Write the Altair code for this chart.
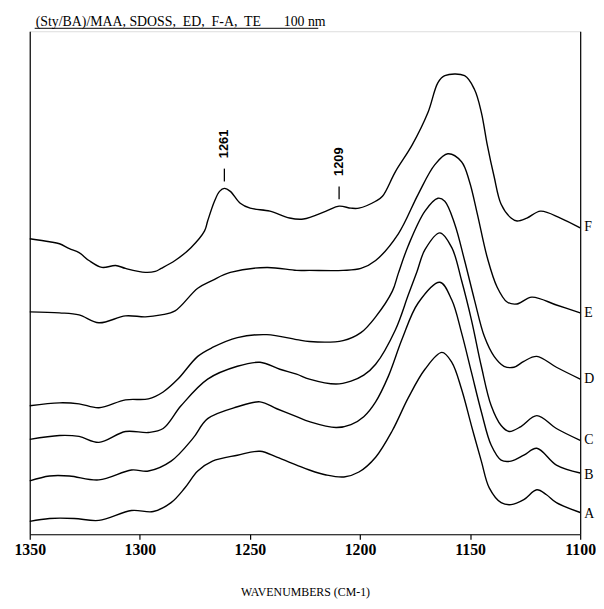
import altair as alt
import pandas as pd

# ---- data (wavenumber cm-1, relative absorbance units) ----
wn_A = [1350, 1341.0, 1329.8, 1318.6, 1303.8, 1293.9, 1285.8, 1279.5, 1273.7, 1267.0, 1255.7, 1245.4,
        1237.8, 1228.8, 1223.0, 1215.4, 1207.3, 1200.5, 1192.9, 1185.3, 1178.1, 1170.5, 1162.8, 1158.3,
        1153.9, 1149.4, 1144.9, 1141.3, 1135.9, 1131.4, 1125.6, 1119.7, 1115.3, 1110.8, 1100]
ab_A = [13, 16, 16, 14, 24, 23, 32, 47, 64, 74, 80, 84,
        78, 70, 65, 60, 58, 63, 78, 105, 138, 167, 184, 174,
        147, 110, 74, 47, 32, 30, 35, 45, 40, 32, 22]

wn_B = [1350, 1341.0, 1332.0, 1318.6, 1303.8, 1296.1, 1285.8, 1275.9, 1269.2, 1255.7, 1245.4, 1237.8,
        1228.8, 1223.0, 1210.9, 1204.1, 1198.3, 1192.9, 1187.1, 1180.8, 1173.6, 1163.7, 1158.3, 1153.9,
        1149.4, 1144.9, 1140.4, 1135.9, 1131.4, 1125.6, 1119.7, 1110.8, 1100]
ab_B = [54, 59, 59, 55, 65, 64, 74, 97, 117, 129, 134, 127,
        119, 114, 108, 111, 119, 134, 160, 198, 234, 255, 237, 204,
        164, 124, 90, 75, 74, 80, 87, 70, 62]

wn_C = [1350, 1336.5, 1327.6, 1318.6, 1306.5, 1296.1, 1289.4, 1281.3, 1269.2, 1255.7, 1245.4, 1236.4,
        1228.8, 1223.0, 1210.9, 1204.1, 1198.3, 1192.9, 1183.9, 1178.1, 1174.1, 1170.5, 1163.7, 1158.3,
        1153.9, 1149.4, 1144.9, 1140.4, 1135.9, 1132.3, 1126.9, 1119.7, 1110.8, 1100]
ab_C = [96, 100, 99, 93, 104, 103, 107, 130, 157, 170, 174, 167,
        162, 157, 152, 155, 161, 172, 207, 242, 266, 288, 305, 290,
        257, 217, 170, 130, 110, 104, 109, 120, 107, 95]

wn_D = [1350, 1336.5, 1327.6, 1318.6, 1306.5, 1296.1, 1289.4, 1282.7, 1273.7, 1267.0, 1255.7, 1242.3,
        1228.8, 1223.0, 1207.7, 1199.6, 1192.9, 1185.3, 1182.6, 1178.1, 1170.5, 1164.6, 1161.5, 1157.0,
        1152.5, 1148.0, 1143.5, 1139.1, 1134.6, 1130.1, 1125.6, 1119.7, 1110.8, 1100]
ab_D = [130, 133, 132, 128, 136, 137, 144, 157, 180, 189, 199, 202,
        197, 195, 196, 204, 220, 246, 264, 292, 327, 340, 337, 314,
        277, 237, 200, 180, 170, 169, 175, 180, 169, 157]

wn_E = [1350, 1336.5, 1327.6, 1318.6, 1306.5, 1297.5, 1290.3, 1284.0, 1273.7, 1267.0, 1258.9, 1242.3,
        1228.8, 1223.0, 1207.7, 1199.6, 1192.9, 1182.6, 1173.6, 1166.0, 1160.1, 1153.9, 1150.3, 1146.7,
        1142.2, 1137.7, 1133.2, 1128.7, 1122.0, 1110.8, 1100]
ab_E = [225, 224, 222, 214, 221, 220, 222, 226, 249, 257, 265, 270,
        267, 267, 267, 269, 277, 304, 344, 374, 385, 377, 357, 324,
        280, 250, 235, 233, 240, 232, 224]

wn_F = [1350, 1341.0, 1336.5, 1332.0, 1327.6, 1323.1, 1317.2, 1311.0, 1306.5, 1297.5, 1293.0, 1290.3,
        1284.0, 1276.8, 1270.6, 1269.2, 1266.1, 1263.8, 1261.6, 1258.9, 1254.4, 1249.9, 1240.9, 1232.0,
        1225.7, 1215.4, 1209.5, 1204.1, 1200.5, 1192.9, 1189.8, 1183.9, 1176.3, 1169.1, 1164.6, 1161.5,
        1152.5, 1148.0, 1144.9, 1142.2, 1139.1, 1135.9, 1131.4, 1128.7, 1124.2, 1118.0, 1109.0, 1100]
ab_F = [299, 296, 294, 289, 285, 277, 270, 272, 269, 265, 266, 269,
        277, 290, 307, 317, 337, 347, 350, 347, 335, 330, 327, 320,
        319, 327, 332, 330, 330, 337, 342, 367, 394, 427, 457, 464,
        464, 450, 427, 394, 362, 334, 320, 317, 320, 327, 320, 310]

spectra = ["A", "B", "C", "D", "E", "F"]
label_ab = [20, 60, 95, 157, 224, 311]

peak_wn = [1261.6, 1209.5]
peak_text = ["1261", "1209"]
peak_text_ab = [395, 377]
peak_dash_lo = [357, 339]
peak_dash_hi = [370, 352]

x_ticks = [1350, 1300, 1250, 1200, 1150, 1100]
title_main = "(Sty/BA)/MAA, SDOSS,\u00a0 ED,\u00a0 F-A,\u00a0 TE"
title_size = "100 nm"
x_title = "WAVENUMBERS (CM-1)"

# ---- build tables ----
rows = []
for name, wn, ab in zip(spectra, [wn_A, wn_B, wn_C, wn_D, wn_E, wn_F],
                        [ab_A, ab_B, ab_C, ab_D, ab_E, ab_F]):
    for i, (w, a) in enumerate(zip(wn, ab)):
        rows.append({"spectrum": name, "wn": w, "ab": a, "i": i})
df = pd.DataFrame(rows)

df_lab = pd.DataFrame({"spectrum": spectra, "wn": [1100] * 6, "ab": label_ab})
df_peak = pd.DataFrame({"wn": peak_wn, "text": peak_text, "tab": peak_text_ab,
                        "lo": peak_dash_lo, "hi": peak_dash_hi})

xscale = alt.Scale(domain=[1100, 1350], reverse=True, nice=False, zero=False)
yscale = alt.Scale(domain=[0, 509], nice=False, zero=False)

x_enc = alt.X("wn:Q", scale=xscale,
              axis=alt.Axis(values=x_ticks, format="d", title=x_title, grid=False,
                            domainColor="black", domainWidth=1.2, tickColor="black",
                            tickSize=5, tickWidth=1.2, labelFont="Liberation Serif",
                            labelFontWeight="bold", labelFontSize=16, labelColor="black",
                            labelPadding=2, labelFlush=False, labelOverlap=False,
                            titleFont="Liberation Serif", titleFontSize=12,
                            titleFontWeight="normal", titleColor="black", titlePadding=30))
x_shared = alt.X("wn:Q", scale=xscale)
y_left = alt.Y("ab:Q", scale=yscale,
               axis=alt.Axis(orient="left", labels=False, ticks=False, grid=False,
                             title=None, domainColor="black", domainWidth=1.2))
y_right = alt.Y("ab:Q", scale=yscale,
                axis=alt.Axis(orient="right", labels=False, ticks=False, grid=False,
                              title=None, domainColor="black", domainWidth=1.2))

lines = alt.Chart(df).mark_line(color="black", strokeWidth=1.4, interpolate="catmull-rom").encode(
    x=x_enc, y=y_left, detail="spectrum:N", order="i:Q")

labels = alt.Chart(df_lab).mark_text(align="left", baseline="middle", dx=4,
                                     font="Liberation Serif", fontSize=14, color="black").encode(
    x=x_shared, y=y_right, text="spectrum:N")

peak_txt = alt.Chart(df_peak).mark_text(angle=270, align="center", baseline="middle",
                                        font="Liberation Sans", fontWeight="bold",
                                        fontSize=13, color="black").encode(
    x=x_shared, y=alt.Y("tab:Q", scale=yscale, axis=None), text="text:N")

peak_dash = alt.Chart(df_peak).mark_rule(color="black", strokeWidth=1.3).encode(
    x=x_shared, y=alt.Y("lo:Q", scale=yscale, axis=None), y2="hi:Q")

df_title = pd.DataFrame({"t": [title_main], "s": [title_size]})
t_main = alt.Chart(df_title).mark_text(align="left", baseline="alphabetic",
                                       font="Liberation Serif", fontSize=14, color="black").encode(
    x=alt.value(6), y=alt.value(-5), text="t:N")
t_size = alt.Chart(df_title).mark_text(align="left", baseline="alphabetic",
                                       font="Liberation Serif", fontSize=14, color="black").encode(
    x=alt.value(257), y=alt.value(-5), text="s:N")
t_line = alt.Chart(df_title).mark_rule(color="black", strokeWidth=1).encode(
    x=alt.value(5), x2=alt.value(292), y=alt.value(-3))

chart = alt.layer(lines, labels, peak_dash, peak_txt, t_main, t_size, t_line).resolve_axis(
    y="independent").properties(
    width=557, height=509,
    autosize=alt.AutoSizeParams(type="none"),
    padding={"left": 22, "top": 20, "right": 16, "bottom": 64},
).configure_view(stroke=None).configure(background="white")

chart.save("out.html", embed_options={"renderer": "svg", "actions": False})
